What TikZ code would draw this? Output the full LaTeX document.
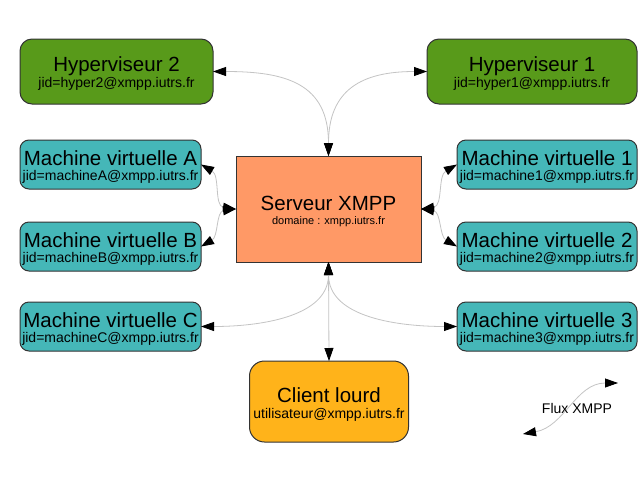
\documentclass[tikz,border=0pt]{standalone}
\usepackage{fontspec}
\setmainfont{Liberation Sans}
\usetikzlibrary{arrows.meta}
\definecolor{hypgreen}{HTML}{589A1A}
\definecolor{vmteal}{HTML}{45B7B8}
\definecolor{srvorange}{HTML}{FF9966}
\definecolor{clyellow}{HTML}{FFB31A}
\definecolor{edgegray}{HTML}{333333}
\definecolor{flowgray}{HTML}{C4C4C4}
\tikzset{
  boxbase/.style={draw=edgegray, line width=1pt, inner sep=0pt, outer sep=0pt, rectangle},
  hypbox/.style={boxbase, fill=hypgreen, rounded corners=12pt, minimum height=65pt},
  vmbox/.style={boxbase, fill=vmteal, rounded corners=9pt, minimum width=181pt, minimum height=49pt},
  srvbox/.style={boxbase, fill=srvorange, minimum width=185pt, minimum height=106pt},
  clbox/.style={boxbase, fill=clyellow, rounded corners=15pt, minimum width=159pt, minimum height=81pt},
  ttl/.style={font=\fontsize{20.5}{24}\selectfont, inner sep=0pt, anchor=base},
  sbt/.style={font=\fontsize{14}{16}\selectfont, inner sep=0pt, anchor=base},
  sbsmall/.style={font=\fontsize{11}{13}\selectfont, inner sep=0pt, anchor=base},
  tipk/.tip={Triangle[length=13pt,width=9pt,black]},
  flux/.style={draw=flowgray, line width=0.8pt, {tipk}-{tipk}}
}
\begin{document}
\begin{tikzpicture}[x=1pt,y=1pt]
\useasboundingbox[fill=white] (0,0) rectangle (640,-480);
% boxes
\node[hypbox, minimum width=193pt] (h2) at (116.5,-71.5) {};
\node[hypbox, minimum width=210pt] (h1) at (532,-71.5) {};
\node[vmbox] (mA) at (110.5,-164.5) {};
\node[vmbox] (mB) at (110.5,-246.5) {};
\node[vmbox] (mC) at (110.5,-326.5) {};
\node[vmbox, minimum width=180pt] (m1) at (547,-164.5) {};
\node[vmbox, minimum width=180pt] (m2) at (547,-246.5) {};
\node[vmbox, minimum width=180pt] (m3) at (547,-326.5) {};
\node[srvbox] (srv) at (328.5,-209) {};
\node[clbox] (cl) at (329,-401.5) {};
% texts
\node[ttl] (h2t) at (h2.center) {Hyperviseur 2};
\node[sbt] (h2s) at ([yshift=-15.5pt]h2.center) {jid=hyper2@xmpp.iutrs.fr};
\node[ttl] (h1t) at (h1.center) {Hyperviseur 1};
\node[sbt] (h1s) at ([yshift=-15.5pt]h1.center) {jid=hyper1@xmpp.iutrs.fr};
\node[ttl] (mAt) at ([yshift=-0.5pt]mA.center) {Machine virtuelle A};
\node[sbt] (mAs) at ([yshift=-16pt]mA.center) {jid=machineA@xmpp.iutrs.fr};
\node[ttl] (mBt) at ([yshift=-0.5pt]mB.center) {Machine virtuelle B};
\node[sbt] (mBs) at ([yshift=-16pt]mB.center) {jid=machineB@xmpp.iutrs.fr};
\node[ttl] (mCt) at ([yshift=-0.5pt]mC.center) {Machine virtuelle C};
\node[sbt] (mCs) at ([yshift=-16pt]mC.center) {jid=machineC@xmpp.iutrs.fr};
\node[ttl] (m1t) at ([yshift=-0.5pt]m1.center) {Machine virtuelle 1};
\node[sbt] (m1s) at ([yshift=-16pt]m1.center) {jid=machine1@xmpp.iutrs.fr};
\node[ttl] (m2t) at ([yshift=-0.5pt]m2.center) {Machine virtuelle 2};
\node[sbt] (m2s) at ([yshift=-16pt]m2.center) {jid=machine2@xmpp.iutrs.fr};
\node[ttl] (m3t) at ([yshift=-0.5pt]m3.center) {Machine virtuelle 3};
\node[sbt] (m3s) at ([yshift=-16pt]m3.center) {jid=machine3@xmpp.iutrs.fr};
\node[ttl] (srvt) at ([yshift=-1pt]srv.center) {Serveur XMPP};
\node[sbsmall] (srvs) at ([yshift=-15pt]srv.center) {domaine : xmpp.iutrs.fr};
\node[ttl] (clt) at ([yshift=-0.5pt]cl.center) {Client lourd};
\node[sbt] (cls) at ([yshift=-16.5pt]cl.center) {utilisateur@xmpp.iutrs.fr};
% connectors
\draw[flux] (srv.north) to[out=90,in=0,looseness=1.3] (h2.east);
\draw[flux] (srv.north) to[out=90,in=180,looseness=1.3] (h1.west);
\draw[flux] (srv.west) to[out=172,in=-30] (mA.east);
\draw[flux] (srv.west) to[out=188,in=30] (mB.east);
\draw[flux] (srv.east) to[out=8,in=210] (m1.west);
\draw[flux] (srv.east) to[out=-8,in=150] (m2.west);
\draw[flux] (srv.south) to[out=-90,in=0] (mC.east);
\draw[flux] (srv.south) to[out=-90,in=180] (m3.west);
\draw[flux] (srv.south) -- (cl.north);
% legend
\coordinate (flA) at (523,-434);
\coordinate (flB) at (618,-383);
\draw[flux] (flA) to[out=10,in=180] (flB);
\node[sbt] (flt) at (577,-413) {Flux XMPP};
\end{tikzpicture}
\end{document}
